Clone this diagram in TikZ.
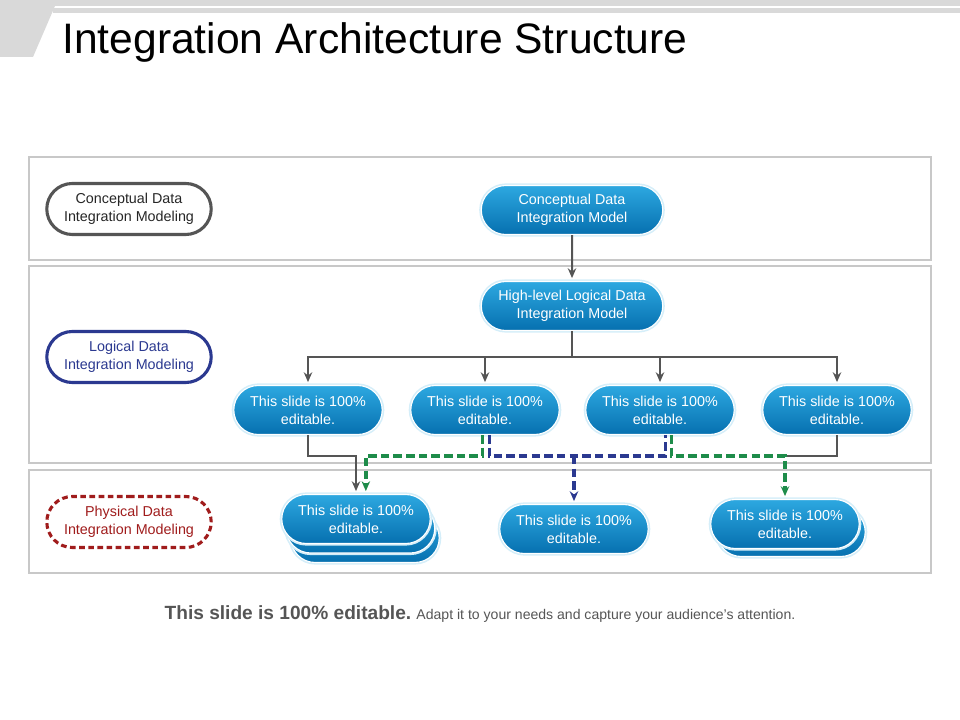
\documentclass[tikz,border=0pt]{standalone}
\usepackage{fontspec}
\setmainfont{Liberation Sans}
\usetikzlibrary{arrows.meta}
\usetikzlibrary{shapes.misc}
\definecolor{hdrgray}{RGB}{217,217,217}
\definecolor{panelgray}{RGB}{200,200,200}
\definecolor{linegray}{RGB}{85,85,85}
\definecolor{navyline}{RGB}{43,57,144}
\definecolor{greenline}{RGB}{30,140,74}
\definecolor{darkred}{RGB}{160,28,28}
\definecolor{boxtop}{RGB}{45,168,225}
\definecolor{boxbot}{RGB}{6,112,175}
\definecolor{notegray}{RGB}{85,85,85}
\tikzset{
  pill/.style={rounded rectangle, minimum width=3.85cm, minimum height=1.225cm,
    align=center, inner sep=2pt, font=\fontsize{10.2}{12.8}\selectfont},
  bluebox/.style={pill, top color=boxtop, bottom color=boxbot, draw=white,
    line width=0.8pt, text=white, preaction={draw=boxtop!20, line width=3pt}},
  sidebox/.style={pill, minimum width=4.25cm, minimum height=1.275cm,
    fill=white, line width=2.2pt},
  plain/.style={draw=linegray, line width=1.4pt},
  tip/.style={-{Stealth[length=7pt,width=6pt]}, shorten >=2pt},
  grdash/.style={draw=greenline, line width=2.4pt, dash pattern=on 6pt off 3pt},
  nvdash/.style={draw=navyline, line width=2.4pt, dash pattern=on 6pt off 3pt}
}
\begin{document}
\begin{tikzpicture}[x=0.025cm,y=-0.025cm]
\useasboundingbox (0,0) rectangle (960,720);
% header band
\fill[hdrgray] (0,0) -- (960,0) -- (960,6) -- (55,6) -- (33,57) -- (0,57) -- cycle;
\fill[hdrgray] (53,8.5) rectangle (960,13);
\node[anchor=base west, inner sep=0, font=\fontsize{30.3}{33}\selectfont] (title) at (62,54)
  {Integration Architecture Structure};
% panels
\draw[panelgray, line width=1pt] (29,157) rectangle (931,260);
\draw[panelgray, line width=1pt] (29,266) rectangle (931,463);
\draw[panelgray, line width=1pt] (29,470) rectangle (931,573);
% level labels
\node[sidebox, draw=linegray, text=black!85] (cl) at (129,209) {Conceptual Data\\Integration Modeling};
\node[sidebox, draw=navyline, text=navyline] (ll) at (129,357) {Logical Data\\Integration Modeling};
\node[sidebox, draw=darkred, text=darkred, dash pattern=on 4pt off 2.5pt] (pl) at (129,522) {Physical Data\\Integration Modeling};
% models
\node[bluebox, minimum width=4.675cm] (cdm) at (572,210) {Conceptual Data\\Integration Model};
\node[bluebox, minimum width=4.675cm] (hlm) at (572,306) {High-level Logical Data\\Integration Model};
\node[bluebox] (e1) at (308,410) {This slide is 100\%\\editable.};
\node[bluebox] (e2) at (485,410) {This slide is 100\%\\editable.};
\node[bluebox] (e3) at (660,410) {This slide is 100\%\\editable.};
\node[bluebox] (e4) at (837,410) {This slide is 100\%\\editable.};
% physical row
\node[bluebox] (s1c) at (365,538) {};
\node[bluebox] (s1b) at (360.5,528.5) {};
\node[bluebox] (s1) at (356,519) {This slide is 100\%\\editable.};
\node[bluebox] (m) at (574,529) {This slide is 100\%\\editable.};
\node[bluebox] (rb) at (791,532) {};
\node[bluebox] (r) at (785,524) {This slide is 100\%\\editable.};
% connectors
\coordinate (fork) at (572,357);
\coordinate (run) at (0,456);
\draw[plain,tip] (cdm) -- (hlm);
\draw[plain] (hlm.south) -- (fork);
\foreach \n in {e1,e2,e3,e4}
  \draw[plain,tip] (fork) -| (\n.north);
\draw[plain,tip] (e1.south) |- (s1.north |- run) -- (s1.north);
\draw[plain] (e4.south) |- (r.north |- run);
\coordinate (e2g) at ([xshift=-2pt]e2.south);
\coordinate (e2n) at ([xshift=3pt]e2.south);
\coordinate (e3n) at ([xshift=4pt]e3.south);
\coordinate (e3g) at ([xshift=8pt]e3.south);
\coordinate (s1g) at ([xshift=7pt]s1.north);
\draw[grdash,tip] (e2g) |- (s1g |- run) -- (s1g);
\draw[nvdash] (e2n) |- (e3n |- run) -- (e3n);
\draw[nvdash,tip] (m.north |- run) -- (m.north);
\draw[grdash,tip] (e3g) |- (r.north |- run) -- (r.north);
% footnote
\node[anchor=base, inner sep=0, text=notegray] (note) at (480,619)
  {{\fontsize{13.6}{15}\selectfont\bfseries This slide is 100\% editable.}
   {\fontsize{10}{12}\selectfont Adapt it to your needs and capture your audience’s attention.}};
\end{tikzpicture}
\end{document}
